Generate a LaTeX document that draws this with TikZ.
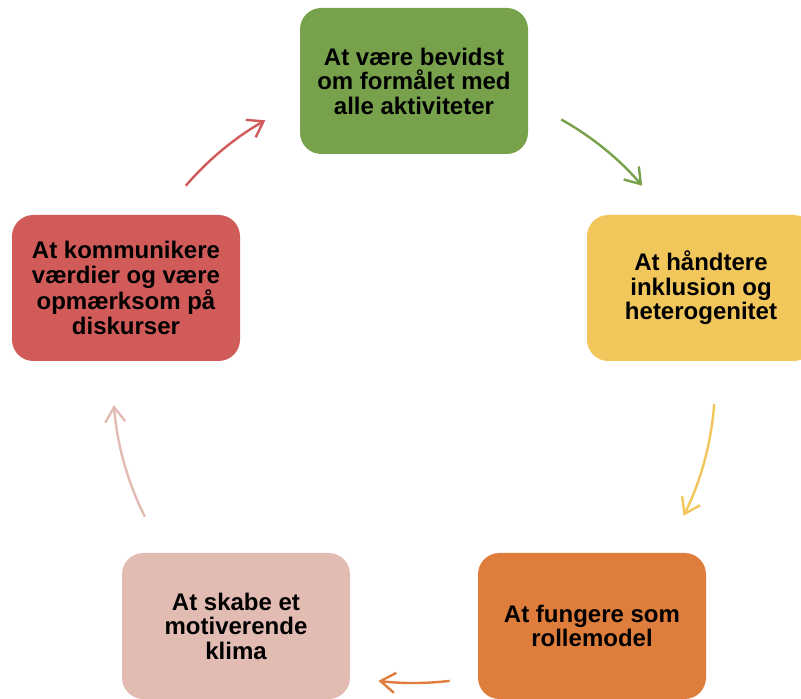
\documentclass[tikz,border=0pt]{standalone}
\usepackage{fontspec}
\setmainfont{Liberation Sans}
\usetikzlibrary{arrows.meta,calc}
\usepackage{xcolor}
\definecolor{cyclegreen}{HTML}{77A24B}
\definecolor{cycleyellow}{HTML}{F1C75B}
\definecolor{cycleorange}{HTML}{DF7D3C}
\definecolor{cyclepink}{HTML}{E2BBB2}
\definecolor{cyclered}{HTML}{D05B59}

\begin{document}
\begin{tikzpicture}[x=0.75pt, y=0.75pt,
    box/.style={rounded corners=16pt, minimum width=171pt, minimum height=109.5pt,
        inner sep=0pt, align=center, font=\fontsize{18}{18.4}\selectfont\bfseries},
    arr/.style={line width=1.8pt, -{Straight Barb[length=11pt, width=15pt]}}]
    \useasboundingbox (0,0) rectangle (801,699);
    \clip (0,0) rectangle (801,699);

    % Boxes
    \node[box, fill=cyclegreen] (formaal) at (414,618) {At være bevidst\\om formålet med\\alle aktiviteter};
    \node[box, fill=cycleyellow] (inklusion) at (701,411) {At håndtere\\inklusion og\\heterogenitet};
    \node[box, fill=cycleorange] (rollemodel) at (592,73) {At fungere som\\rollemodel};
    \node[box, fill=cyclepink] (klima) at (236,73) {At skabe et\\motiverende\\klima};
    \node[box, fill=cyclered] (vaerdier) at (126,411) {At kommunikere\\værdier og være\\opmærksom på\\diskurser};

    % Arrows
    \coordinate (c) at (414,317);
    \draw[arr, cyclegreen] ($(c)+(60.7:301)$) arc[start angle=60.7, end angle=40.7, radius=301];
    \draw[arr, cycleyellow] ($(c)+(-4.2:301)$) arc[start angle=-4.2, end angle=-26.4, radius=301];
    \draw[arr, cycleorange] ($(c)+(-83.2:301)$) arc[start angle=-83.2, end angle=-96.8, radius=301];
    \draw[arr, cyclepink] ($(c)+(206.6:301)$) arc[start angle=206.6, end angle=184.4, radius=301];
    \draw[arr, cyclered] ($(c)+(139.3:301)$) arc[start angle=139.3, end angle=119.6, radius=301];
\end{tikzpicture}
\end{document}
